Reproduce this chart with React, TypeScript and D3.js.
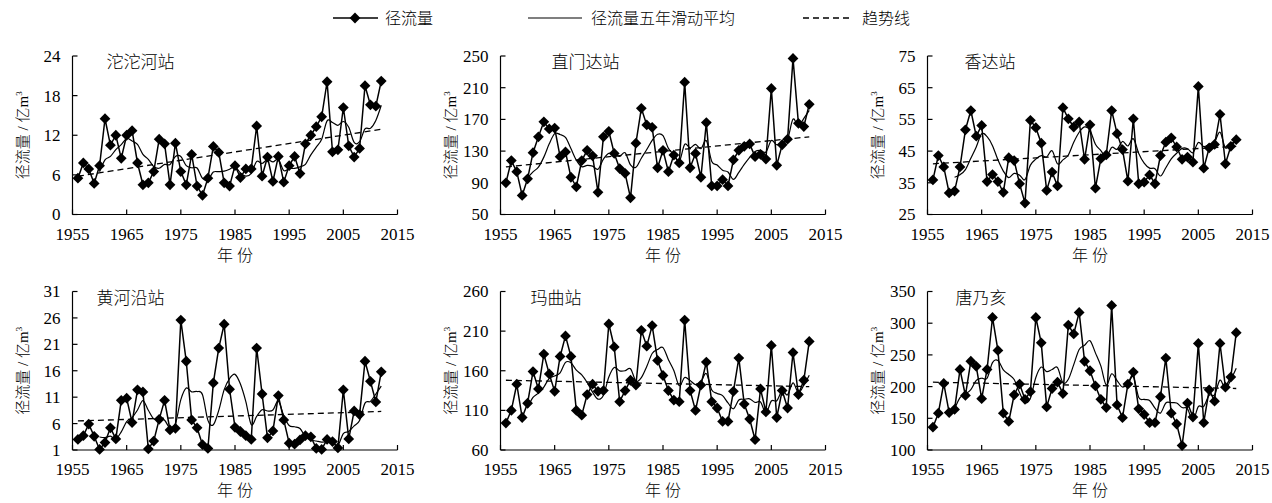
import React from 'react';
import * as d3 from 'd3';

// 年份 1956-2012
const years = d3.range(1956, 2013);
const stationNames = ['沱沱河站', '直门达站', '香达站', '黄河沿站', '玛曲站', '唐乃亥'];

// 年径流量 (亿m³)
const tuotuohe = [
  5.5, 7.8, 6.9, 4.7, 7.4, 14.5, 10.5, 12.0, 8.5, 12.0,
  12.7, 7.8, 4.5, 4.8, 6.5, 11.4, 10.7, 4.5, 10.8, 6.5,
  4.5, 9.1, 4.3, 2.9, 5.5, 10.3, 9.4, 4.8, 4.3, 7.4,
  5.6, 6.9, 6.9, 13.4, 5.8, 8.7, 5.0, 8.8, 4.9, 7.4,
  8.8, 6.2, 10.7, 12.0, 13.3, 14.8, 20.1, 9.5, 9.8, 16.2,
  10.4, 8.7, 10.0, 19.5, 16.6, 16.4, 20.2,
];
const zhimenda = [
  90, 118, 104, 74, 95, 128, 148, 167, 158, 159,
  123, 129, 97, 85, 118, 131, 124, 78, 148, 155,
  127, 108, 102, 71, 140, 184, 163, 160, 109, 131,
  104, 125, 115, 217, 109, 127, 97, 166, 86, 86,
  94, 86, 119, 131, 136, 139, 123, 126, 120, 209,
  112, 138, 145, 247, 165, 161, 189,
];
const xiangda = [
  35.9, 43.6, 40.0, 31.8, 32.4, 40.0, 51.7, 57.8, 49.7, 53.1,
  35.4, 37.6, 35.4, 32.0, 42.9, 42.0, 34.7, 28.6, 54.7, 52.4,
  47.5, 32.6, 38.4, 34.0, 58.7, 55.2, 52.6, 54.2, 42.4, 53.3,
  33.3, 42.6, 43.8, 57.8, 50.5, 45.5, 35.5, 55.2, 34.7, 35.2,
  37.5, 34.7, 43.6, 47.8, 49.2, 46.3, 42.4, 43.1, 41.5, 65.4,
  39.6, 46.0, 47.1, 56.6, 41.0, 46.5, 48.6,
];
const huangheyan = [
  3.0, 3.7, 5.9, 3.6, 1.1, 2.4, 5.2, 3.1, 10.4, 10.8,
  6.2, 12.4, 12.0, 1.2, 2.7, 6.8, 10.4, 4.8, 5.1, 25.6,
  17.8, 6.7, 5.2, 2.0, 1.3, 13.7, 20.3, 24.8, 12.5, 5.3,
  4.5, 3.7, 3.0, 20.3, 11.6, 3.3, 4.6, 11.3, 6.7, 2.3,
  2.1, 2.9, 3.7, 3.5, 1.3, 1.1, 3.0, 2.6, 1.4, 12.4,
  3.1, 8.4, 7.7, 17.8, 14.0, 10.1, 15.8,
];
const maqu = [
  94, 110, 143, 101, 119, 159, 137, 181, 156, 134,
  178, 204, 178, 110, 104, 130, 143, 134, 135, 219,
  190, 121, 135, 148, 142, 211, 191, 217, 173, 154,
  135, 123, 121, 224, 135, 110, 142, 171, 121, 113,
  96, 96, 134, 176, 118, 99, 73, 137, 108, 192,
  101, 135, 113, 183, 130, 148, 197,
];
const tangnaihai = [
  136, 158, 205, 159, 164, 227, 186, 240, 232, 181,
  227, 309, 257, 158, 145, 187, 204, 180, 192, 309,
  269, 168, 197, 207, 189, 297, 283, 317, 240, 225,
  201, 180, 167, 328, 171, 151, 204, 223, 165, 156,
  143, 143, 184, 245, 158, 141, 107, 174, 152, 268,
  143, 195, 177, 268, 199, 215, 285,
];

// 趋势线两端 (1956, 2012)
const trendEnds = [[5.8, 12.9], [110, 148], [41, 46.5], [6.5, 8.3], [148, 140], [207, 197]];
const yDomains = [[0, 24], [50, 250], [25, 75], [1, 31], [60, 260], [100, 350]];
const yTickSteps = [6, 40, 10, 5, 50, 50];
const xTicks = [1955, 1965, 1975, 1985, 1995, 2005, 2015];

const series = [tuotuohe, zhimenda, xiangda, huangheyan, maqu, tangnaihai];

const colLeft = [72.5, 500.5, 927.5];
const rowTop = [56, 291.5];
const plotW = 325;
const plotH = 158.5;
const nameOffset = [34, 51, 37, 24, 30, 28];

const numFont = "'Liberation Serif', 'Times New Roman', serif";
const cjkFont = "'Liberation Serif', 'Noto Sans CJK SC', serif";
const cjkWeight = 300;

const diamond = d3.symbol(d3.symbolSquare, 58)();

function Panel({ i }: { i: number }) {
  const left = colLeft[i % 3];
  const top = rowTop[Math.floor(i / 3)];
  const values = series[i];
  const x = d3.scaleLinear().domain([1955, 2015]).range([0, plotW]);
  const y = d3.scaleLinear().domain(yDomains[i]).range([plotH, 0]);
  const yTicks = d3.range(yDomains[i][0], yDomains[i][1] + 0.001, yTickSteps[i]);

  const raw = years.map((yr, k) => [yr, values[k]] as [number, number]);
  // 五年滑动平均
  const ma = d3.range(4, years.length).map(k => [years[k], d3.mean(values.slice(k - 4, k + 1)) as number] as [number, number]);

  const line = d3.line<[number, number]>().x(d => x(d[0])).y(d => y(d[1]));
  const smooth = d3.line<[number, number]>().x(d => x(d[0])).y(d => y(d[1])).curve(d3.curveCatmullRom.alpha(0));
  const trend: [number, number][] = [[1956, trendEnds[i][0]], [2012, trendEnds[i][1]]];

  return (
    <g transform={`translate(${left},${top})`}>
      <path d={line(trend) || ''} fill="none" stroke="#000" strokeWidth={1.3} strokeDasharray="6,4" />
      <path d={smooth(ma) || ''} fill="none" stroke="#000" strokeWidth={1.2} />
      <path d={line(raw) || ''} fill="none" stroke="#000" strokeWidth={1.5} />
      {raw.map((d, k) => (
        <path key={k} d={diamond} transform={`translate(${x(d[0])},${y(d[1])}) rotate(45)`} fill="#000" />
      ))}
      {/* axes */}
      <line x1={0} x2={0} y1={0} y2={plotH} stroke="#000" strokeWidth={1.2} />
      <line x1={0} x2={plotW} y1={plotH} y2={plotH} stroke="#000" strokeWidth={1.2} />
      {yTicks.map(t => (
        <g key={t}>
          <line x1={0} x2={5} y1={y(t)} y2={y(t)} stroke="#000" strokeWidth={1.2} />
          <text x={-12} y={y(t)} dy="0.35em" textAnchor="end" fontFamily={numFont} fontSize={17}>{t}</text>
        </g>
      ))}
      {xTicks.map(t => (
        <g key={t}>
          <line x1={x(t)} x2={x(t)} y1={plotH} y2={plotH - 5} stroke="#000" strokeWidth={1.2} />
          <text x={x(t)} y={plotH + 25} textAnchor="middle" fontFamily={numFont} fontSize={17}>{t}</text>
        </g>
      ))}
      <text x={plotW / 2} y={plotH + 46} textAnchor="middle" fontFamily={cjkFont} fontWeight={cjkWeight} fontSize={16}>年 份</text>
      <text x={nameOffset[i]} y={12} fontFamily={cjkFont} fontWeight={cjkWeight} fontSize={17}>{stationNames[i]}</text>
      <text transform={`translate(-50,${plotH / 2}) rotate(-90)`} textAnchor="middle" dy="0.35em" fontFamily={cjkFont} fontWeight={cjkWeight} fontSize={15}>
        径流量 / 亿m<tspan dy="-6" fontSize={9}>3</tspan>
      </text>
    </g>
  );
}

export default function App() {
  return (
    <svg width={1272} height={503} style={{ position: 'absolute', left: 0, top: 0, background: '#fff' }}>
      <rect width={1272} height={503} fill="#fff" />
      {/* 图例 */}
      <g fontFamily={cjkFont} fontWeight={cjkWeight} fontSize={16}>
        <line x1={333} x2={378} y1={18} y2={18} stroke="#000" strokeWidth={1.5} />
        <path d={diamond} transform="translate(355,18) rotate(45)" fill="#000" />
        <text x={385} y={18} dy="0.35em">径流量</text>
        <line x1={528} x2={582} y1={18} y2={18} stroke="#000" strokeWidth={1.2} />
        <text x={591} y={18} dy="0.35em">径流量五年滑动平均</text>
        <line x1={803} x2={852} y1={18} y2={18} stroke="#000" strokeWidth={1.3} strokeDasharray="6,4" />
        <text x={862} y={18} dy="0.35em">趋势线</text>
      </g>
      {d3.range(6).map(i => <Panel key={i} i={i} />)}
    </svg>
  );
}
